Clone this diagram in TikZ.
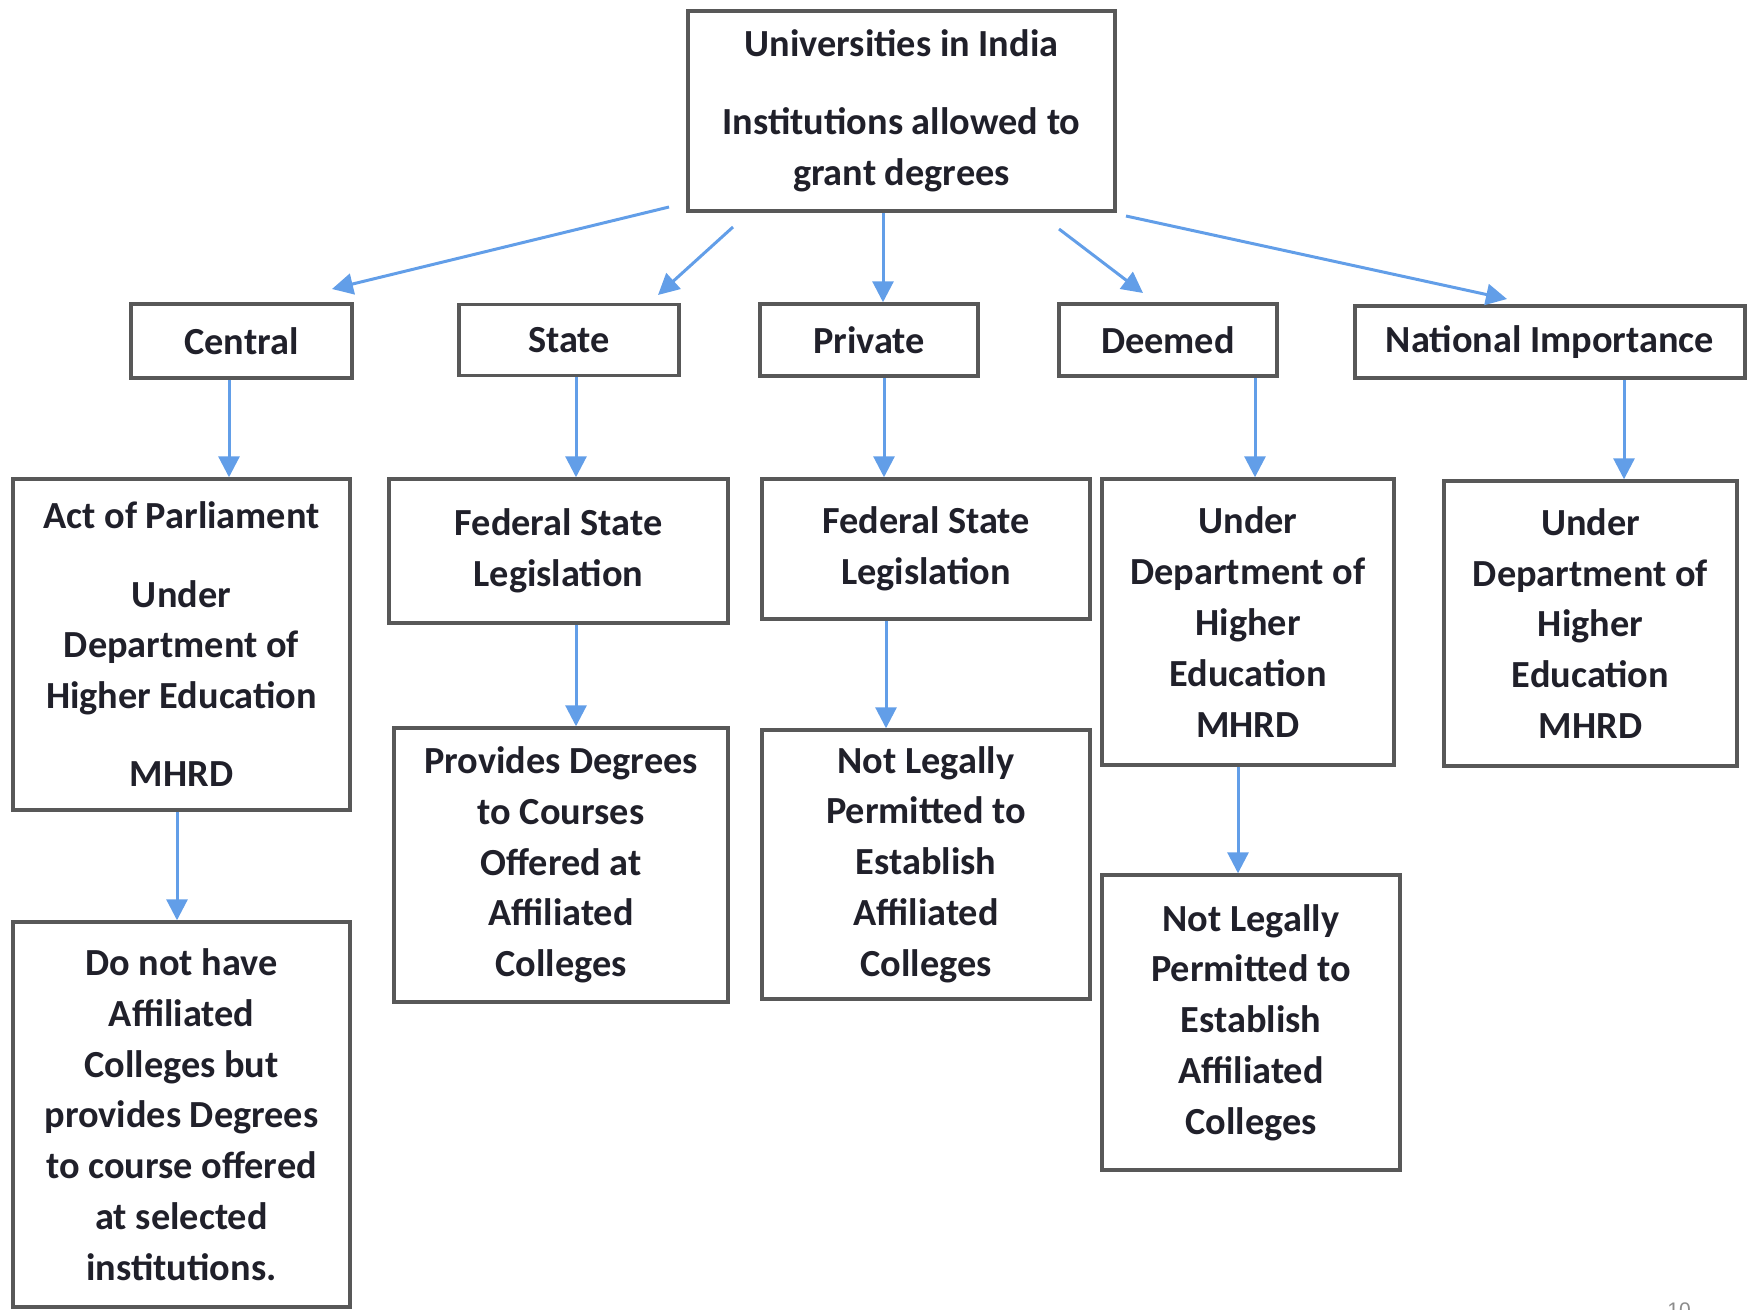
\documentclass[tikz,border=0pt]{standalone}
\usepackage{fontspec}
\setmainfont{Carlito}
\newfontfamily\pagefont{Liberation Sans}
\usetikzlibrary{arrows.meta}
\definecolor{linkblue}{RGB}{98,158,232}
\definecolor{boxgray}{RGB}{88,88,88}
\definecolor{textdark}{RGB}{32,32,42}
\definecolor{pagegray}{RGB}{140,140,140}

\begin{document}
\begin{tikzpicture}[x=0.02cm, y=-0.02cm,
    box/.style = {draw=boxgray, line width=0.07cm, inner sep=0pt, align=center, text=textdark, font=\fontsize{21.8pt}{28.9pt}\selectfont\bfseries},
    link/.style = {draw=linkblue, line width=0.06cm, -{Triangle[length=0.42cm, width=0.42cm]}}]
    \useasboundingbox (0,0) rectangle (1754,1309);

    \node[box, minimum width=8.54cm, minimum height=4cm] (top) at (901.5,111) {Universities in India\\[15.6pt] Institutions allowed to\\ grant degrees};

    \node[box, minimum width=4.42cm, minimum height=1.48cm] (central) at (241.5,341) {Central};
    \node[box, minimum width=4.4cm, minimum height=1.42cm] (state) at (569,340) {State};
    \node[box, minimum width=4.36cm, minimum height=1.44cm] (private) at (869,340) {Private};
    \node[box, minimum width=4.36cm, minimum height=1.44cm] (deemed) at (1168,340) {Deemed};
    \node[box, minimum width=7.8cm, minimum height=1.44cm] (national) at (1550,342) {National Importance};

    \node[box, minimum width=6.74cm, minimum height=6.62cm] (act) at (181.5,644.5) {Act of Parliament\\[15.6pt] Under\\ Department of\\ Higher Education\\[15.6pt] MHRD};
    \node[box, minimum width=6.78cm, minimum height=2.88cm] (stateleg) at (558.5,551) {Federal State\\ Legislation};
    \node[box, minimum width=6.56cm, minimum height=2.8cm] (privleg) at (926,549) {Federal State\\ Legislation};
    \node[box, minimum width=5.84cm, minimum height=5.72cm] (deemedhrd) at (1248,622) {Under\\ Department of\\ Higher\\ Education\\ MHRD};
    \node[box, minimum width=5.86cm, minimum height=5.7cm] (nationalhrd) at (1590.5,623.5) {Under\\ Department of\\ Higher\\ Education\\ MHRD};

    \node[box, minimum width=6.74cm, minimum height=7.7cm] (centralno) at (181.5,1114.5) {Do not have\\ Affiliated\\ Colleges but\\ provides Degrees\\ to course offered\\ at selected\\ institutions.};
    \node[box, minimum width=6.68cm, minimum height=5.48cm] (stateaff) at (561,865) {Provides Degrees\\ to Courses\\ Offered at\\ Affiliated\\ Colleges};
    \node[box, minimum width=6.56cm, minimum height=5.38cm] (privno) at (926,864.5) {Not Legally\\ Permitted to\\ Establish\\ Affiliated\\ Colleges};
    \node[box, minimum width=5.96cm, minimum height=5.9cm] (deemedno) at (1251,1022.5) {Not Legally\\ Permitted to\\ Establish\\ Affiliated\\ Colleges};

    \node[text=pagegray, font=\fontsize{12pt}{14pt}\selectfont\pagefont, anchor=north west, inner sep=0pt] (pagenum) at (1667,1302) {10};

    \coordinate (s1) at (669,207);
    \coordinate (e1) at (332,289);
    \coordinate (s2) at (733,227);
    \coordinate (e2) at (658,295);
    \coordinate (s4) at (1059,229);
    \coordinate (e4) at (1143,293);
    \coordinate (s5) at (1126,216);
    \coordinate (e5) at (1507,299);

    \draw[link] (s1) -- (e1);
    \draw[link] (s2) -- (e2);
    \draw[link] (top.south -| 883,0) -- (private.north -| 883,0);
    \draw[link] (s4) -- (e4);
    \draw[link] (s5) -- (e5);

    \draw[link] (central.south -| 229,0) -- (act.north -| 229,0);
    \draw[link] (act.south -| 177,0) -- (centralno.north -| 177,0);
    \draw[link] (state.south -| 576,0) -- (stateleg.north -| 576,0);
    \draw[link] (stateleg.south -| 576,0) -- (stateaff.north -| 576,0);
    \draw[link] (private.south -| 884,0) -- (privleg.north -| 884,0);
    \draw[link] (privleg.south -| 886,0) -- (privno.north -| 886,0);
    \draw[link] (deemed.south -| 1255,0) -- (deemedhrd.north -| 1255,0);
    \draw[link] (deemedhrd.south -| 1238,0) -- (deemedno.north -| 1238,0);
    \draw[link] (national.south -| 1624,0) -- (nationalhrd.north -| 1624,0);
\end{tikzpicture}
\end{document}
